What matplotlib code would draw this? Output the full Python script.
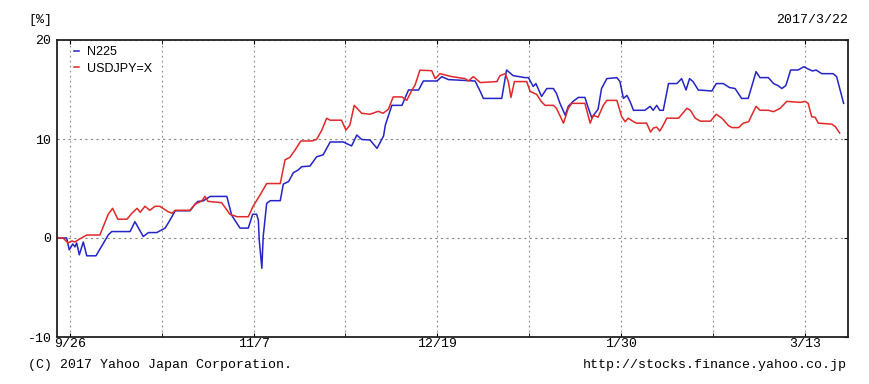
import datetime as dt
import matplotlib
matplotlib.use("Agg")
import matplotlib.pyplot as plt
import matplotlib.dates as mdates
import numpy as np

# ---- data (days since 2016-09-26, % change) ----
base_date = dt.date(2016, 9, 26)

n225_days = [-2.9, -0.7, -0.1, 0.7, 1.2, 1.6, 2.2, 3.1, 3.9, 6.0, 8.8, 9.6, 13.8, 14.9, 16.8, 18.0,
             19.9, 21.8, 22.9, 24.1, 27.5, 28.6, 29.3, 30.5, 32.1, 35.9, 37.0, 38.9, 40.8, 41.8,
             42.7, 43.1, 43.3, 43.9, 44.2, 45.0, 45.8, 48.1, 48.8, 50.0, 51.1, 52.2, 53.0, 54.9,
             56.4, 57.9, 59.5, 62.5, 64.4, 65.6, 66.7, 68.6, 70.2, 71.7, 72.1, 73.6, 75.9, 77.4,
             79.7, 80.8, 83.9, 85.0, 86.5, 92.6, 93.8, 94.5, 98.7, 99.8, 101.3, 104.0, 104.8,
             105.9, 106.5, 107.0, 107.8, 109.0, 110.5, 111.2, 112.0, 113.2, 113.9, 115.0, 116.2,
             117.7, 118.5, 119.3, 120.0, 120.7, 121.5, 122.7, 125.0, 125.7, 126.5, 127.3, 128.0,
             128.8, 131.4, 132.6, 133.3, 134.1, 134.8, 135.6, 136.8, 138.7, 139.8, 140.8, 141.6,
             142.4, 143.6, 146.7, 147.7, 149.3, 150.7, 152.0, 153.5, 155.0, 155.8, 156.8, 157.7,
             159.6, 160.8, 161.8, 162.7, 163.6, 164.7, 166.4, 167.7, 168.7, 169.7, 170.5, 171.8,
             174.4, 175.2, 175.9, 176.8]
n225_vals = [0.0, 0.0, -1.2, -0.6, -0.9, -0.5, -1.7, -0.4, -1.8, -1.8, 0.3, 0.65, 0.65, 1.65, 0.15,
             0.55, 0.55, 1.0, 1.8, 2.75, 2.75, 3.4, 3.7, 3.75, 4.2, 4.2, 2.3, 1.0, 1.0, 2.4,
             2.4, 1.8, -0.2, -3.06, 0.13, 3.5, 3.77, 3.77, 5.45, 5.7, 6.6, 6.87, 7.2, 7.27,
             8.2, 8.4, 9.7, 9.7, 9.3, 10.4, 9.95, 9.9, 9.06, 10.3, 11.4, 13.4, 13.4, 14.95,
             14.95, 15.86, 15.86, 16.3, 16.0, 15.86, 14.8, 14.1, 14.1, 16.97, 16.4, 16.2, 16.2,
             15.3, 15.6, 15.1, 14.3, 15.1, 15.1, 14.6, 13.6, 12.4, 13.3, 13.8, 14.2,
             14.2, 13.1, 12.1, 12.6, 13.0, 15.1, 16.1, 16.2, 15.8, 14.1, 14.4, 13.8,
             12.9, 12.9, 13.3, 12.9, 13.4, 12.9, 12.9, 15.6, 15.6, 16.1, 14.95, 16.1,
             15.8, 14.95, 14.85, 15.6, 15.6, 15.2, 15.1, 14.1, 14.1, 15.3, 16.8, 16.2,
             16.2, 15.6, 15.4, 15.1, 15.4, 16.97, 16.97, 17.3, 17.07, 16.87, 16.97, 16.6,
             16.6, 16.3, 15.1, 13.6]

usdjpy_days = [-2.9, -1.5, -0.4, 0.5, 1.2, 1.9, 3.9, 6.9, 8.8, 9.8, 11.0, 13.1, 14.2, 15.4, 16.1,
               17.2, 18.3, 19.5, 20.6, 22.5, 23.4, 24.1, 27.5, 28.6, 30.2, 30.9, 31.6, 34.7, 36.6,
               38.2, 40.8, 41.9, 43.5, 45.0, 48.1, 49.2, 50.3, 51.5, 52.8, 55.3, 56.4, 57.6, 58.7,
               59.5, 62.1, 63.1, 64.0, 65.0, 66.7, 68.6, 70.5, 71.6, 72.8, 73.9, 75.9, 77.0, 78.2,
               78.9, 80.0, 82.7, 83.5, 84.6, 87.3, 90.3, 91.1, 92.2, 93.8, 97.6, 98.3, 99.5, 100.2,
               100.8, 101.6, 104.4, 105.2, 106.7, 107.7, 108.6, 110.5, 111.2, 112.8, 113.9, 114.7,
               117.7, 118.9, 119.6, 120.7, 121.9, 122.7, 125.0, 126.1, 126.9, 127.6, 128.8, 129.5,
               131.8, 132.7, 133.3, 134.1, 134.8, 135.6, 136.4, 139.1, 141.0, 141.8, 142.9, 144.1,
               146.4, 147.7, 149.0, 150.5, 151.3, 152.8, 153.9, 155.1, 155.8, 156.8, 157.7, 159.6,
               160.8, 162.3, 163.8, 166.9, 168.0, 168.7, 169.5, 170.3, 171.0, 174.1, 174.9, 175.9]
usdjpy_vals = [0.0, 0.0, -0.5, -0.3, -0.4, -0.2, 0.3, 0.3, 2.4, 3.0, 1.9, 1.9, 2.5, 3.0, 2.6,
               3.2, 2.8, 3.2, 3.2, 2.65, 2.5, 2.8, 2.8, 3.4, 3.75, 4.2, 3.7, 3.57, 2.4,
               2.15, 2.15, 3.2, 4.35, 5.5, 5.5, 7.9, 8.15, 8.9, 9.8, 9.8, 9.95, 10.9, 12.1,
               11.9, 11.9, 10.9, 11.4, 13.4, 12.6, 12.5, 12.8, 12.6, 13.0, 14.25, 14.25, 13.9, 14.95,
               15.45, 16.95, 16.9, 16.1, 16.6, 16.3, 16.1, 15.86, 16.3, 15.7, 15.8, 16.4, 16.6, 15.8,
               14.2, 15.8, 15.8, 14.8, 14.5, 13.8, 13.4, 13.4, 13.1, 11.6, 13.1, 13.6,
               13.6, 11.6, 12.4, 12.2, 13.4, 13.9, 13.9, 12.25, 11.75, 12.1, 11.75, 11.6,
               11.6, 10.7, 11.1, 11.2, 10.8, 11.4, 12.1, 12.1, 13.1, 12.9, 12.1, 11.8,
               11.8, 12.5, 12.1, 11.35, 11.15, 11.15, 11.6, 11.75, 12.4, 13.3, 12.9, 12.9,
               12.76, 13.1, 13.8, 13.7, 13.8, 13.6, 12.25, 12.2, 11.6, 11.5, 11.25, 10.6]

series_names = ["N225", "USDJPY=X"]
grid_days = [0, 21, 42, 63, 84, 105, 126, 147, 168]   # 3-week grid
label_days = [0, 42, 84, 126, 168]
y_ticks = [-10, 0, 10, 20]
as_of = "2017/3/22"

# ---- plotting ----
mono = ["Liberation Mono", "DejaVu Sans Mono"]
fs = 9.5
fig = plt.figure(figsize=(8.7, 3.84), dpi=100)
ax = fig.add_axes([57 / 870, 47 / 384, 791 / 870, 297 / 384])

b0 = mdates.date2num(base_date)
ax.plot(b0 + np.array(n225_days), n225_vals, color="#2424c8", lw=1.1, label=series_names[0])
ax.plot(b0 + np.array(usdjpy_days), usdjpy_vals, color="#e02828", lw=1.1, label=series_names[1])

ax.set_xlim(b0 - 2.9, b0 + 177.8)
ax.set_ylim(-10, 20)

ax.set_xticks([b0 + d for d in grid_days], minor=True)
ax.set_xticks([b0 + d for d in label_days])
ax.set_xticklabels([f"{mdates.num2date(b0 + d).month}/{mdates.num2date(b0 + d).day}" for d in label_days],
                   family=mono, fontsize=fs)
ax.set_yticks(y_ticks)
ax.set_yticklabels([str(v) for v in y_ticks], family=mono, fontsize=fs)

ax.grid(True, which="both", axis="x", color="#888888", ls=(0, (1.5, 3)), lw=0.8)
ax.grid(True, axis="y", color="#888888", ls=(0, (2, 3)), lw=0.8)
ax.tick_params(axis="x", which="both", direction="in", length=3, top=True, bottom=True, pad=1)
ax.tick_params(axis="y", direction="in", length=3, left=False, right=True, pad=4)
for s in ax.spines.values():
    s.set_linewidth(1.3)
    s.set_color("#222222")

leg = ax.legend(loc="upper left", frameon=False, handlelength=0.45, handletextpad=0.6,
                borderaxespad=0.1, labelspacing=0.35, bbox_to_anchor=(0.013, 1.0),
                prop={"family": "Liberation Sans", "size": 9})

fig.text(28 / 870, 1 - 20 / 384, "[%]", family=mono, fontsize=fs, va="center", ha="left")
fig.text(848 / 870, 1 - 20 / 384, as_of, family=mono, fontsize=fs, va="center", ha="right")
fig.text(28 / 870, 1 - 365 / 384, "(C) 2017 Yahoo Japan Corporation.", family=mono, fontsize=fs,
         va="center", ha="left")
fig.text(847 / 870, 1 - 365 / 384, "http://stocks.finance.yahoo.co.jp", family=mono, fontsize=fs,
         va="center", ha="right")

fig.savefig("out.png", dpi=100)
